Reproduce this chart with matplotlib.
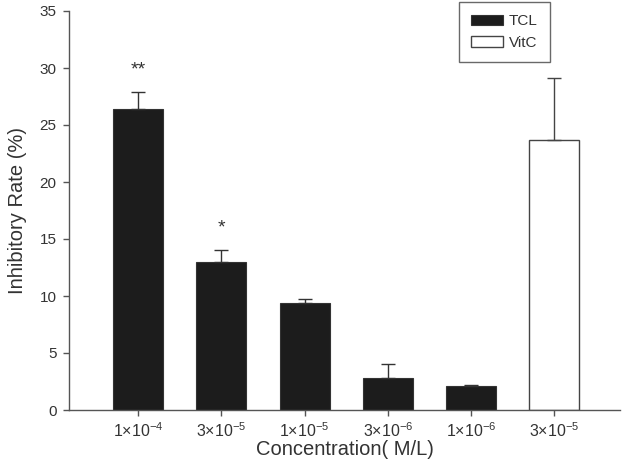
import matplotlib
matplotlib.use("Agg")
import matplotlib.pyplot as plt
import numpy as np

plt.rcParams['font.family'] = ['Liberation Sans', 'DejaVu Sans']
plt.rcParams['mathtext.fontset'] = 'custom'
plt.rcParams['mathtext.rm'] = 'Liberation Sans'
plt.rcParams['mathtext.it'] = 'Liberation Sans'

tcl_labels = ["1×10$^{-4}$", "3×10$^{-5}$", "1×10$^{-5}$", "3×10$^{-6}$", "1×10$^{-6}$"]
tcl_values = [26.4, 13.0, 9.35, 2.85, 2.1]
tcl_errors = [1.5, 1.0, 0.35, 1.2, 0.05]
tcl_marks = ["**", "*", "", "", ""]
vitc_labels = ["3×10$^{-5}$"]
vitc_values = [23.7]
vitc_errors = [5.4]
yticks = [0, 5, 10, 15, 20, 25, 30, 35]

fig = plt.figure(figsize=(6.23, 4.61), dpi=100)
ax = fig.add_axes([69/623, 1-410/461, (620-69)/623, (410-11)/461])

axc = '#555555'
x_tcl = np.arange(len(tcl_values))
x_vitc = np.arange(len(tcl_values), len(tcl_values) + len(vitc_values))

ax.bar(x_tcl, tcl_values, width=0.6, color='#1c1c1c', edgecolor='#333333',
       linewidth=0.8, label='TCL',
       yerr=[np.zeros(len(tcl_errors)), tcl_errors],
       error_kw=dict(ecolor='#333333', elinewidth=1.0, capsize=5, capthick=1.0))
ax.bar(x_vitc, vitc_values, width=0.6, color='white', edgecolor='#444444',
       linewidth=1.0, label='VitC',
       yerr=[np.zeros(len(vitc_errors)), vitc_errors],
       error_kw=dict(ecolor='#444444', elinewidth=1.0, capsize=5, capthick=1.0))

for xi, v, e, m in zip(x_tcl, tcl_values, tcl_errors, tcl_marks):
    if m:
        ax.text(xi, v + e + 1.2, m, ha='center', va='bottom', fontsize=14, color='#333333')

ax.set_xlim(-0.83, 5.79)
ax.set_ylim(0, 35)
ax.set_yticks(yticks)
ax.set_xticks(np.concatenate([x_tcl, x_vitc]))
ax.set_xticklabels(tcl_labels + vitc_labels, fontsize=11.5, color='#333333')
ax.tick_params(axis='y', labelsize=11, labelcolor='#333333', pad=5)
ax.tick_params(axis='x', pad=4)
ax.tick_params(direction='out', length=4, width=1, color=axc)

for s in ['top', 'right']:
    ax.spines[s].set_visible(False)
for s in ['left', 'bottom']:
    ax.spines[s].set_color(axc)
    ax.spines[s].set_linewidth(1.0)

ax.set_xlabel('Concentration( M/L)', fontsize=14.5, color='#333333', labelpad=0)
ax.set_ylabel('Inhibitory Rate (%)', fontsize=14.5, color='#333333', labelpad=9)

leg = fig.legend(loc='upper left', bbox_to_anchor=(459/623, 1-2/461), fontsize=11,
                 frameon=True, fancybox=False, edgecolor='#444444',
                 handlelength=2.1, handleheight=0.7, handletextpad=0.35,
                 borderpad=0.8, labelspacing=0.5, borderaxespad=0)
leg.get_frame().set_linewidth(1.0)
for t in leg.get_texts():
    t.set_color('#333333')

fig.savefig('out.png', dpi=100)
